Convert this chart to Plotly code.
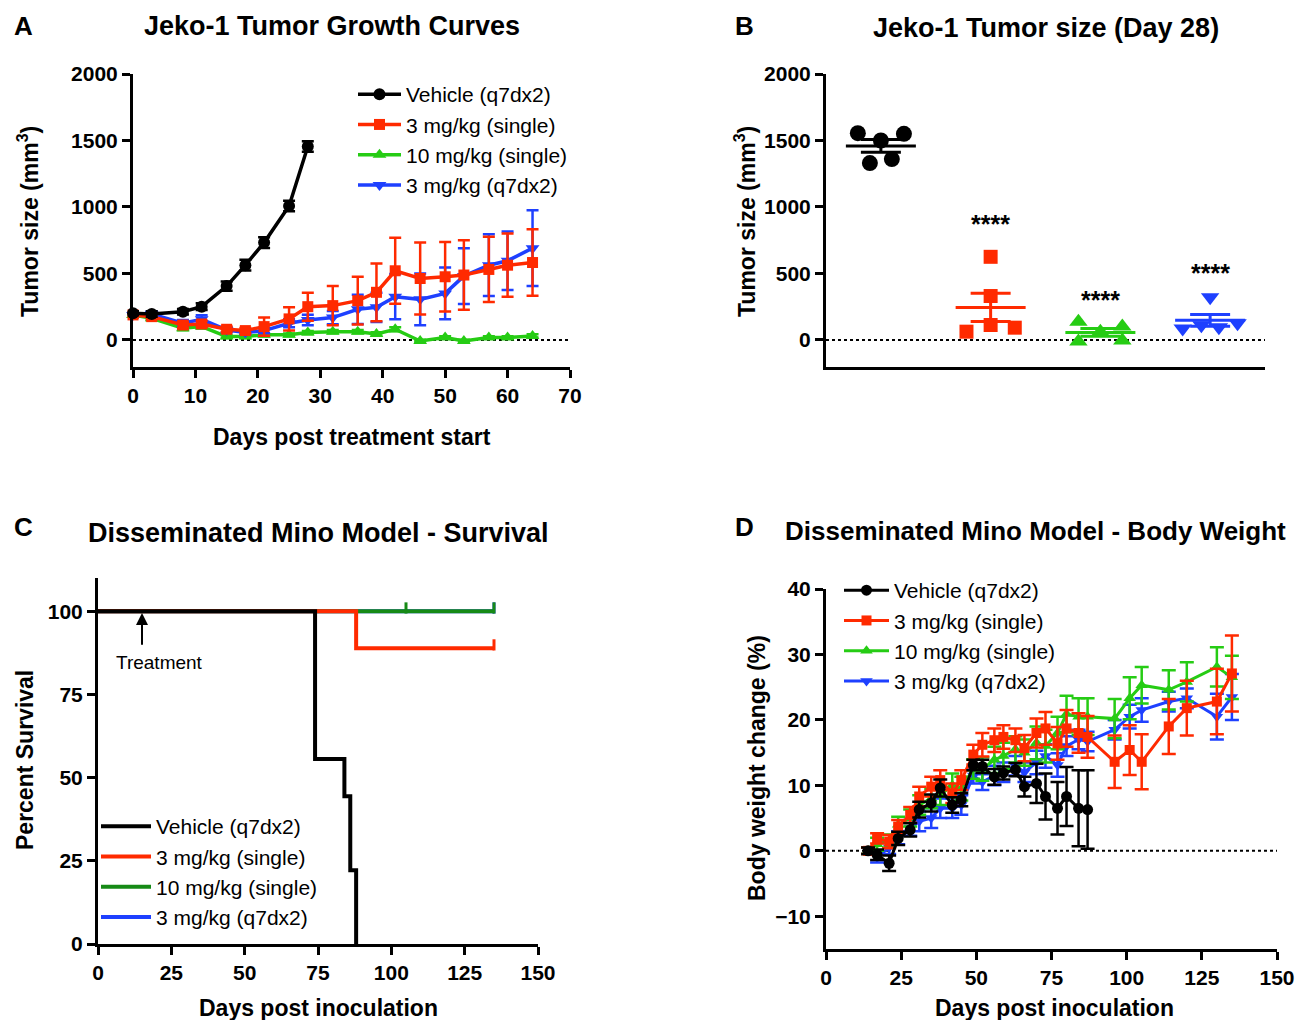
import plotly.graph_objects as go
import numpy as np

# page is 1304x1028; the html body keeps its default 8px margin on every side
PAGE_MARGIN = 8
W, H = 1304 - 2 * PAGE_MARGIN, 1028 - 2 * PAGE_MARGIN
FONT = "Liberation Sans, Arial, sans-serif"

BLACK = "#000000"
RED = "#ff2a00"
GREEN = "#26cc14"
GREEN_C = "#168a16"
BLUE = "#1e40ff"

series_names = ["Vehicle (q7dx2)", "3 mg/kg (single)", "10 mg/kg (single)", "3 mg/kg (q7dx2)"]

# ---------------- Panel A: tumor growth ----------------
days_a = [0, 3, 8, 11, 15, 18, 21, 25, 28, 32, 36, 39, 42, 46, 50, 53, 57, 60, 64]
veh_a = [200, 195, 212, 250, 405, 562, 732, 1007, 1455]
veh_a_err = [15, 20, 20, 25, 35, 40, 40, 40, 40]
red_a = [188, 175, 112, 120, 80, 70, 100, 158, 250, 258, 295, 358, 520, 462, 475, 488, 530, 562, 582]
red_a_err = [20, 20, 25, 25, 20, 20, 68, 87, 105, 147, 180, 217, 248, 270, 262, 262, 245, 238, 250]
green_a = [188, 162, 88, 100, 25, 25, 38, 38, 55, 62, 62, 45, 80, -8, 18, -8, 18, 18, 30]
green_a_err = [15, 15, 15, 15, 10, 10, 10, 10, 12, 12, 12, 12, 15, 10, 10, 10, 10, 10, 12]
blue_a = [188, 195, 125, 155, 75, 55, 70, 125, 150, 168, 230, 245, 325, 305, 350, 480, 562, 595, 690]
blue_a_err = [15, 20, 25, 30, 20, 15, 20, 30, 40, 50, 110, 110, 170, 195, 194, 210, 232, 220, 285]

# ---------------- Panel B: day 28 tumor size ----------------
veh_b = [1555, 1550, 1500, 1330, 1360]
red_b = [625, 330, 62, 112, 92]
green_b = [137, 100, -12, -5, 62]
blue_b = [320, 85, 110, 95, 125]
sig_labels = ["", "****", "****", "****"]
sig_y = [None, 875, 300, 505]

# ---------------- Panel C: survival ----------------
veh_c_t = [0, 74, 84, 86, 88]
veh_c_s = [100, 55.6, 44.4, 22.2, 0]
red_c_t = [0, 88, 135]
red_c_s = [100, 88.9, 88.9]
green_c_t = [0, 135]
green_c_s = [100, 100]
blue_c_t = [0, 135]
blue_c_s = [100, 100]
red_cens_t, red_cens_s = [135], [88.9]
green_cens_t, green_cens_s = [105, 135], [100, 100]
blue_cens_t, blue_cens_s = [135], [100]
treatment_day = 15

# ---------------- Panel D: body weight ----------------
days_d = [14, 17, 21, 24, 28, 31, 35, 38, 42, 45, 49, 52, 56, 59, 63, 66, 70, 73, 77, 80, 84, 87,
          96, 101, 105, 114, 120, 130, 135]
veh_d = [0, -0.6, -1.9, 1.9, 3.2, 6.3, 7.3, 9.6, 7.0, 7.8, 13.1, 12.9, 11.3, 11.9, 12.4, 9.8,
         10.3, 8.3, 6.5, 8.3, 6.5, 6.3]
veh_d_err = [0.5, 0.8, 1.2, 1.0, 1.0, 1.2, 1.3, 1.3, 1.2, 1.0, 0.8, 1.0, 1.2, 1.0, 1.0, 1.5,
             3.0, 3.5, 4.0, 4.5, 5.8, 6.0]
red_d = [0, 1.9, 1.4, 3.7, 5.5, 8.3, 9.8, 10.8, 8.8, 10.8, 14.7, 16.2, 16.9, 17.4, 16.9, 15.7,
         18.0, 18.7, 16.4, 18.7, 18.0, 17.4, 13.6, 15.4, 13.6, 19.0, 21.8, 22.8, 27.1]
red_d_err = [0.5, 0.8, 1.0, 1.0, 1.2, 1.5, 1.5, 1.5, 1.5, 1.5, 1.5, 1.8, 1.8, 1.8, 1.8, 2.0,
             2.2, 2.5, 2.5, 2.8, 3.0, 3.2, 4.0, 3.8, 4.2, 4.2, 4.2, 5.0, 5.8]
green_d = [0, 1.0, 1.5, 4.0, 5.0, 7.0, 8.0, 8.5, 10.0, 9.5, 12.5, 12.5, 13.9, 14.5, 15.5, 15.0,
           16.5, 16.0, 18.0, 20.9, 20.5, 20.5, 20.2, 23.3, 25.3, 24.6, 25.8, 28.1, 26.5]
green_d_err = [0.5, 1, 1, 1.2, 1.3, 1.5, 1.5, 1.5, 1.8, 1.8, 1.5, 1.8, 2, 2, 2, 2, 2.5, 2.5,
               2.5, 2.8, 2.8, 2.8, 3.0, 3.2, 2.8, 3.0, 3.0, 3.0, 3.3]
blue_d = [0, -1.0, 0.5, 2.0, 3.5, 4.5, 5.0, 6.5, 6.5, 7.0, 11.5, 10.5, 11.5, 12.0, 13.0, 12.0,
          13.5, 14.5, 13.1, 16.0, 17.0, 16.7, 18.5, 20.5, 21.5, 22.8, 23.3, 20.5, 23.5]
blue_d_err = [0.5, 0.8, 1, 1, 1.2, 1.5, 1.5, 1.5, 1.5, 1.5, 1.2, 1.2, 1.5, 1.5, 1.5, 1.5, 1.8,
              1.8, 1.8, 1.5, 1.5, 1.5, 1.5, 1.8, 1.8, 1.5, 1.5, 3.5, 3.5]


def px(x):
    return (x - PAGE_MARGIN) / W


def py(y):
    return 1 - (y - PAGE_MARGIN) / H


fig = go.Figure()

# ---------- Panel A traces ----------
a_specs = [
    (green_a, green_a_err, GREEN, "triangle-up", 12, 2),
    (blue_a, blue_a_err, BLUE, "triangle-down", 12, 3),
    (red_a, red_a_err, RED, "square", 11, 1),
    (veh_a, veh_a_err, BLACK, "circle", 12, 0),
]
for vals, err, col, sym, ms, idx in a_specs:
    fig.add_trace(go.Scatter(
        x=days_a[:len(vals)], y=vals, mode="lines+markers", name=series_names[idx],
        line=dict(color=col, width=3.5), marker=dict(color=col, symbol=sym, size=ms),
        error_y=dict(type="data", array=err, color=col, thickness=2.5, width=6),
        xaxis="x", yaxis="y", legend="legend", legendgroup="a%d" % idx, legendrank=idx + 1,
        cliponaxis=False))

# ---------- Panel B traces ----------
b_groups = [(veh_b, BLACK, "circle", 16), (red_b, RED, "square", 14),
            (green_b, GREEN, "triangle-up", 16), (blue_b, BLUE, "triangle-down", 16)]
jitter = [[-0.21, 0.21, 0.0, -0.1, 0.1], [0.0, 0.0, -0.22, 0.0, 0.22],
          [-0.2, 0.2, -0.2, 0.2, 0.0], [0.0, -0.25, -0.08, 0.08, 0.25]]
for gi, (vals, col, sym, ms) in enumerate(b_groups):
    fig.add_trace(go.Scatter(
        x=[gi + j for j in jitter[gi]], y=vals, mode="markers", showlegend=False,
        marker=dict(color=col, symbol=sym, size=ms), xaxis="x2", yaxis="y2", cliponaxis=False))
    arr = np.array(vals, dtype=float)
    mean = arr.mean()
    sem = arr.std(ddof=1) / np.sqrt(len(arr))
    fig.add_trace(go.Scatter(
        x=[gi], y=[mean], mode="markers", showlegend=False,
        marker=dict(symbol="line-ew", size=50, color=col, line=dict(color=col, width=3)),
        error_y=dict(type="data", array=[sem], color=col, thickness=3, width=20),
        xaxis="x2", yaxis="y2", cliponaxis=False))

# ---------- Panel C traces ----------
c_specs = [
    (blue_c_t, blue_c_s, blue_cens_t, blue_cens_s, BLUE, 3),
    (green_c_t, green_c_s, green_cens_t, green_cens_s, GREEN_C, 2),
    (red_c_t, red_c_s, red_cens_t, red_cens_s, RED, 1),
    (veh_c_t, veh_c_s, [], [], BLACK, 0),
]
for t, s, ct, cs, col, idx in c_specs:
    fig.add_trace(go.Scatter(
        x=t, y=s, mode="lines", line=dict(color=col, width=4, shape="hv"),
        name=series_names[idx], xaxis="x3", yaxis="y3", legend="legend2",
        legendgroup="c%d" % idx, legendrank=idx + 1, cliponaxis=False))
    if ct:
        fig.add_trace(go.Scatter(
            x=ct, y=[v + 1 for v in cs], mode="markers", showlegend=False,
            legendgroup="c%d" % idx,
            marker=dict(symbol="line-ns", size=8, color=col, line=dict(color=col, width=3)),
            xaxis="x3", yaxis="y3", cliponaxis=False))

# ---------- Panel D traces ----------
d_specs = [
    (blue_d, blue_d_err, BLUE, "triangle-down", 11, 3),
    (green_d, green_d_err, GREEN, "triangle-up", 11, 2),
    (red_d, red_d_err, RED, "square", 10, 1),
    (veh_d, veh_d_err, BLACK, "circle", 11, 0),
]
for vals, err, col, sym, ms, idx in d_specs:
    fig.add_trace(go.Scatter(
        x=days_d[:len(vals)], y=vals, mode="lines+markers", name=series_names[idx],
        line=dict(color=col, width=3), marker=dict(color=col, symbol=sym, size=ms),
        error_y=dict(type="data", array=err, color=col, thickness=2.5, width=7),
        xaxis="x4", yaxis="y4", legend="legend3", legendgroup="d%d" % idx, legendrank=idx + 1,
        cliponaxis=False))

# ---------- Axes ----------
tickfont = dict(family=FONT, size=21, color="black", weight="bold")
axis_common = dict(showline=True, linewidth=3, linecolor="black", ticks="outside",
                   ticklen=8, tickwidth=2.5, tickcolor="black", showgrid=False,
                   zeroline=False, tickfont=tickfont, fixedrange=True, automargin=False)

fig.update_layout(
    xaxis=dict(domain=[px(133), px(570)], range=[0, 70], tickvals=list(range(0, 71, 10)),
               anchor="y", **axis_common),
    yaxis=dict(domain=[py(366.5), py(74)], range=[-200, 2000],
               tickvals=[0, 500, 1000, 1500, 2000], anchor="x", **axis_common),
    xaxis2=dict(domain=[px(826), px(1265)], range=[-0.5, 3.5], showticklabels=False,
                anchor="y2", **{**axis_common, "ticks": ""}),
    yaxis2=dict(domain=[py(366.5), py(74)], range=[-200, 2000],
                tickvals=[0, 500, 1000, 1500, 2000], anchor="x2", **axis_common),
    xaxis3=dict(domain=[px(98), px(538)], range=[0, 150], tickvals=list(range(0, 151, 25)),
                anchor="y3", **axis_common),
    yaxis3=dict(domain=[py(944), py(578)], range=[0, 110], tickvals=[0, 25, 50, 75, 100],
                anchor="x3", **axis_common),
    xaxis4=dict(domain=[px(826), px(1277)], range=[0, 150], tickvals=list(range(0, 151, 25)),
                anchor="y4", **axis_common),
    yaxis4=dict(domain=[py(949), py(589)], range=[-15, 40],
                tickvals=[-10, 0, 10, 20, 30, 40], anchor="x4", **axis_common),
)

# ---------- Dotted zero lines ----------
for xr, yr in [("x domain", "y"), ("x2 domain", "y2"), ("x4 domain", "y4")]:
    fig.add_shape(type="line", xref=xr, yref=yr, x0=0, x1=1, y0=0, y1=0,
                  line=dict(color="black", width=2, dash="dot"), layer="below")

# ---------- Annotations ----------
ann = []


def text(xp, yp, s, size, bold=True, angle=0, xanchor="center"):
    ann.append(dict(x=px(xp), y=py(yp), xref="paper", yref="paper", text=s, showarrow=False,
                    xanchor=xanchor, yanchor="middle", textangle=angle,
                    font=dict(family=FONT, size=size, color="black",
                              weight="bold" if bold else "normal")))


# panel letters
text(24, 26, "A", 26)
text(744, 26, "B", 26)
text(24, 527, "C", 26)
text(744, 527, "D", 26)
# titles
text(332, 26, "Jeko-1 Tumor Growth Curves", 27)
text(1046, 28, "Jeko-1 Tumor size (Day 28)", 27)
text(318, 533, "Disseminated Mino Model - Survival", 27)
text(1035, 531, "Disseminated Mino Model - Body Weight", 26)
# axis titles
text(28, 222, "Tumor size (mm<sup>3</sup>)", 23, angle=-90)
text(352, 437, "Days post treatment start", 23)
text(745, 222, "Tumor size (mm<sup>3</sup>)", 23, angle=-90)
text(25, 760, "Percent Survival", 23, angle=-90)
text(318, 1008, "Days post inoculation", 23)
text(757, 768, "Body weight change (%)", 23, angle=-90)
text(1054, 1008, "Days post inoculation", 23)

# significance stars
for gi, (lab, yv) in enumerate(zip(sig_labels, sig_y)):
    if lab:
        ann.append(dict(x=gi, y=yv, xref="x2", yref="y2", text=lab, showarrow=False,
                        font=dict(family=FONT, size=25, color="black", weight="bold")))

# treatment arrow
ann.append(dict(x=treatment_day, y=99.5, xref="x3", yref="y3", ax=treatment_day, ay=89.5,
                axref="x3", ayref="y3", text="", showarrow=True,
                arrowhead=2, arrowsize=1.2, arrowwidth=2, arrowcolor="black"))
ann.append(dict(x=treatment_day - 9.5, y=84.5, xref="x3", yref="y3", text="Treatment",
                showarrow=False, xanchor="left",
                font=dict(family=FONT, size=19, color="black")))

legend_common = dict(font=dict(family=FONT, size=21, color="black"), bgcolor="rgba(0,0,0,0)",
                     xanchor="left", yanchor="top", traceorder="grouped", tracegroupgap=0,
                     itemclick=False, itemdoubleclick=False)

fig.update_layout(
    width=W, height=H, margin=dict(l=0, r=0, t=0, b=0, autoexpand=False),
    paper_bgcolor="white", plot_bgcolor="white", showlegend=True,
    annotations=ann,
    legend=dict(x=px(353), y=py(74), itemwidth=43, **legend_common),
    legend2=dict(x=px(96), y=py(806), itemwidth=50, **legend_common),
    legend3=dict(x=px(839), y=py(570), itemwidth=45, **legend_common),
    font=dict(family=FONT),
)

fig.write_html("out.html", config={"displayModeBar": False})
